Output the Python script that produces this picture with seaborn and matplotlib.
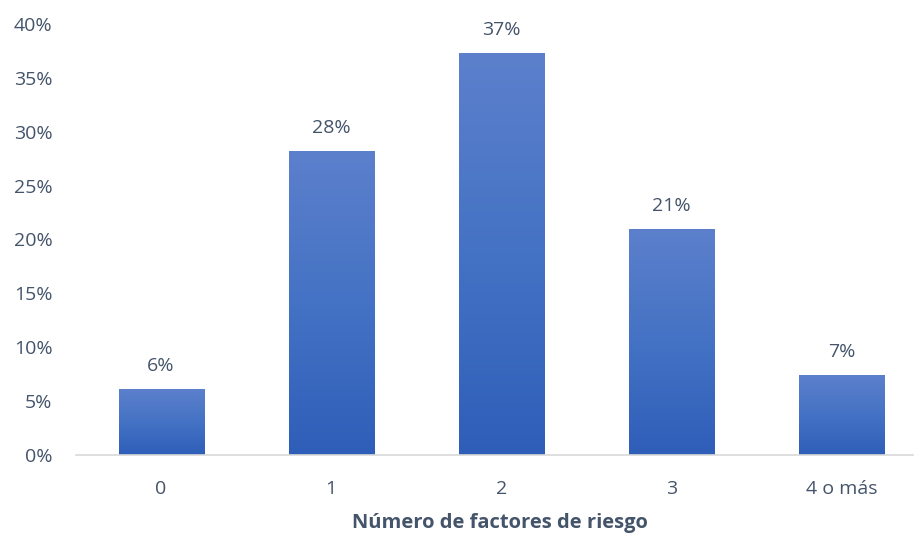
import numpy as np
import pandas as pd
import matplotlib
matplotlib.use("Agg")
import matplotlib.pyplot as plt
import seaborn as sns
from matplotlib.colors import LinearSegmentedColormap
from matplotlib.ticker import PercentFormatter

categories = ["0", "1", "2", "3", "4 o más"]
values = [0.061, 0.282, 0.373, 0.210, 0.074]
labels = ["6%", "28%", "37%", "21%", "7%"]
yticks = [0, 0.05, 0.10, 0.15, 0.20, 0.25, 0.30, 0.35, 0.40]

sns.set_theme(style="white")
plt.rcParams["font.family"] = ["Open Sans", "DejaVu Sans"]

text_color = "#44546a"
df = pd.DataFrame({"cat": categories, "val": values})

fig = plt.figure(figsize=(9.14, 5.33), dpi=100)
ax = fig.add_axes([76/914, 78/533, 837/914, 431/533])
sns.barplot(data=df, x="cat", y="val", color="#4472c4", width=0.5, ax=ax,
            saturation=1, order=categories)

cmap = LinearSegmentedColormap.from_list("g", ["#2f5eb9", "#4472c4", "#5c80cc"])
grad = np.linspace(0, 1, 256).reshape(-1, 1)
for p in ax.patches:
    x0, y0 = p.get_x(), p.get_y()
    w, h = p.get_width(), p.get_height()
    im = ax.imshow(grad, extent=[x0, x0 + w, y0, y0 + h], origin="lower",
                   cmap=cmap, aspect="auto", zorder=p.get_zorder() + 0.1)
    im.set_clip_path(p)

ax.set_xlim(-0.5, 4.42)
ax.set_ylim(0, 0.40)
ax.set_yticks(yticks)
ax.yaxis.set_major_formatter(PercentFormatter(1.0, decimals=0))

for i, (v, lab) in enumerate(zip(values, labels)):
    ax.annotate(lab, (i, v), xytext=(0, 23), textcoords="offset pixels",
                ha="center", va="center", fontsize=14, color=text_color)

for s in ["top", "right", "left"]:
    ax.spines[s].set_visible(False)
ax.spines["bottom"].set_color("#d9d9d9")
ax.spines["bottom"].set_linewidth(1.2)
ax.tick_params(axis="both", length=0, labelsize=14, colors=text_color)
ax.tick_params(axis="x", pad=18)
ax.tick_params(axis="y", pad=17)
ax.set_ylabel("")
ax.set_xlabel("Número de factores de riesgo", fontsize=14.5, fontweight="bold",
              color=text_color, va="center")
ax.xaxis.set_label_coords(0.5066, -0.158)
ax.grid(False)

fig.savefig("out.png", dpi=100)
